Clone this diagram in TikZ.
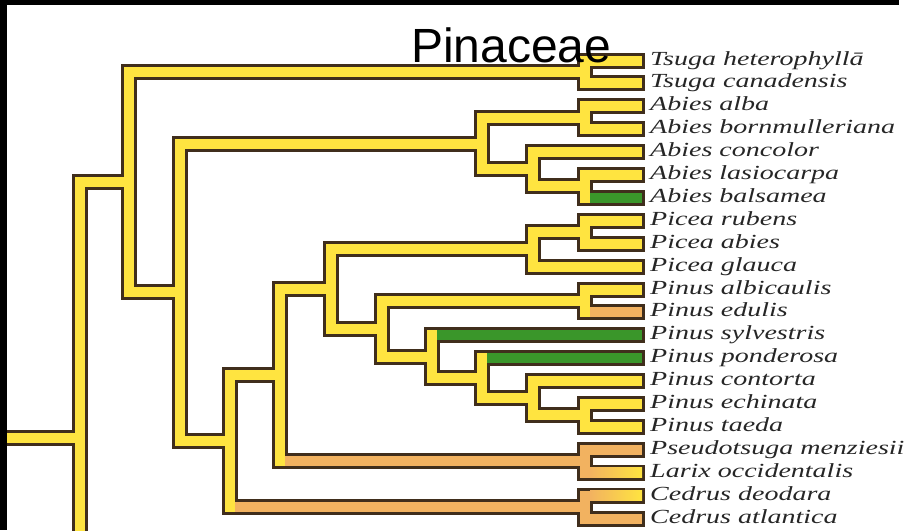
\documentclass[tikz,border=0pt]{standalone}
\usepackage{fontspec}
\usepackage{tikz}
\newfontfamily\leaffont[FakeStretch=1.4]{Liberation Serif}
\newfontfamily\titlefont{Liberation Sans}
\definecolor{pinyellow}{RGB}{255,228,64}
\definecolor{pinedge}{RGB}{64,46,28}
\definecolor{pingreen}{RGB}{58,150,42}
\definecolor{pinorange}{RGB}{242,178,96}
\tikzset{
  branch/.style={draw=pinyellow, line width=10pt, line cap=rect, line join=miter,
    preaction={draw=pinedge, line width=16pt, line cap=rect, line join=miter}},
  greenpart/.style={draw=pingreen, line width=10pt, line cap=rect, line join=miter},
  orangepart/.style={draw=pinorange, line width=10pt, line cap=rect, line join=miter},
  leaf/.style={anchor=west, inner sep=0pt, text height=13pt, text depth=4pt,
    font=\leaffont\itshape\fontsize{20}{20}\selectfont, text=black!85}
}

\begin{document}
\begin{tikzpicture}[x=1pt,y=-1pt]
  \useasboundingbox (0,0) rectangle (915,530);

  % leaves
  \coordinate (l0) at (637,60.5);   \coordinate (l1) at (637,83.4);
  \coordinate (l2) at (637,106.3);  \coordinate (l3) at (637,129.2);
  \coordinate (l4) at (637,152.1);  \coordinate (l5) at (637,175.0);
  \coordinate (l6) at (637,197.9);  \coordinate (l7) at (637,220.8);
  \coordinate (l8) at (637,243.7);  \coordinate (l9) at (637,266.6);
  \coordinate (l10) at (637,289.5); \coordinate (l11) at (637,312.4);
  \coordinate (l12) at (637,335.3); \coordinate (l13) at (637,358.2);
  \coordinate (l14) at (637,381.1); \coordinate (l15) at (637,404.0);
  \coordinate (l16) at (637,426.9); \coordinate (l17) at (637,449.8);
  \coordinate (l18) at (637,472.7); \coordinate (l19) at (637,495.6);
  \coordinate (l20) at (637,518.5);

  % inner nodes
  \coordinate (stem) at (0,438);    \coordinate (root) at (80,438);
  \coordinate (down) at (80,545);   \coordinate (nts) at (129,182);
  \coordinate (tsu) at (585,71.95); \coordinate (ab) at (180,292.3);
  \coordinate (abi) at (482,143.5); \coordinate (alb) at (585,117.75);
  \coordinate (abc) at (533,169.3); \coordinate (las) at (585,186.45);
  \coordinate (cl) at (230,441.1);  \coordinate (ced) at (585,507.05);
  \coordinate (pl) at (280,375.2);  \coordinate (pla) at (585,461.25);
  \coordinate (pp) at (331,289.2);  \coordinate (pic) at (533,249.4);
  \coordinate (pic2) at (585,232.25); \coordinate (pin) at (382,328.9);
  \coordinate (pal) at (585,300.95); \coordinate (psy) at (432,356.8);
  \coordinate (ppo) at (482,378.2); \coordinate (pco) at (533,398.3);
  \coordinate (tae) at (585,415.45);

  \path[branch] (stem) -- (root) (root) -- (down) (root) |- (nts)
    (nts) |- (tsu) (tsu) |- (l0) (tsu) |- (l1)
    (nts) |- (ab) (ab) |- (abi) (ab) |- (cl)
    (abi) |- (alb) (alb) |- (l2) (alb) |- (l3)
    (abi) |- (abc) (abc) |- (l4) (abc) |- (las) (las) |- (l5) (las) |- (l6)
    (cl) |- (pl) (cl) |- (ced) (ced) |- (l19) (ced) |- (l20)
    (pl) |- (pla) (pla) |- (l17) (pla) |- (l18)
    (pl) |- (pp) (pp) |- (pic) (pic) |- (pic2) (pic2) |- (l7) (pic2) |- (l8) (pic) |- (l9)
    (pp) |- (pin) (pin) |- (pal) (pal) |- (l10) (pal) |- (l11)
    (pin) |- (psy) (psy) |- (l12) (psy) |- (ppo) (ppo) |- (l13)
    (ppo) |- (pco) (pco) |- (l14) (pco) |- (tae) (tae) |- (l15) (tae) |- (l16);

  \draw[greenpart] ([xshift=10pt]las |- l6) -- (l6);
  \draw[greenpart] ([xshift=10pt]psy |- l12) -- (l12);
  \draw[greenpart] ([xshift=10pt]ppo |- l13) -- (l13);
  \draw[orangepart] ([xshift=10pt]pal |- l11) -- (l11);
  \draw[orangepart] ([xshift=10pt]pl |- pla) -- (pla) |- (l17) (pla) |- (l18);
  \draw[orangepart] ([xshift=10pt]cl |- ced) -- (ced) |- (l20) (ced) |- (l19);
  \shade[left color=pinorange, right color=pinyellow]
    ([xshift=5pt,yshift=5pt]pla |- l18) rectangle ([xshift=5pt,yshift=-5pt]l18);
  \shade[left color=pinorange, right color=pinyellow]
    ([xshift=5pt,yshift=5pt]ced |- l19) rectangle ([xshift=5pt,yshift=-5pt]l19);

  \node[leaf] (t0) at (650,60.5) {Tsuga heterophyllā};
  \node[leaf] (t1) at (650,83.4) {Tsuga canadensis};
  \node[leaf] (t2) at (650,106.3) {Abies alba};
  \node[leaf] (t3) at (650,129.2) {Abies bornmulleriana};
  \node[leaf] (t4) at (650,152.1) {Abies concolor};
  \node[leaf] (t5) at (650,175.0) {Abies lasiocarpa};
  \node[leaf] (t6) at (650,197.9) {Abies balsamea};
  \node[leaf] (t7) at (650,220.8) {Picea rubens};
  \node[leaf] (t8) at (650,243.7) {Picea abies};
  \node[leaf] (t9) at (650,266.6) {Picea glauca};
  \node[leaf] (t10) at (650,289.5) {Pinus albicaulis};
  \node[leaf] (t11) at (650,312.4) {Pinus edulis};
  \node[leaf] (t12) at (650,335.3) {Pinus sylvestris};
  \node[leaf] (t13) at (650,358.2) {Pinus ponderosa};
  \node[leaf] (t14) at (650,381.1) {Pinus contorta};
  \node[leaf] (t15) at (650,404.0) {Pinus echinata};
  \node[leaf] (t16) at (650,426.9) {Pinus taeda};
  \node[leaf] (t17) at (650,449.8) {Pseudotsuga menziesii};
  \node[leaf] (t18) at (650,472.7) {Larix occidentalis};
  \node[leaf] (t19) at (650,495.6) {Cedrus deodara};
  \node[leaf] (t20) at (650,518.5) {Cedrus atlantica};

  \node[anchor=base west, inner sep=0pt, font=\titlefont\fontsize{48}{48}\selectfont]
    (title) at (411,62) {Pinaceae};

  \fill[black] (0,0) rectangle (899,5);
  \fill[black] (0,0) rectangle (7,530);
\end{tikzpicture}
\end{document}
